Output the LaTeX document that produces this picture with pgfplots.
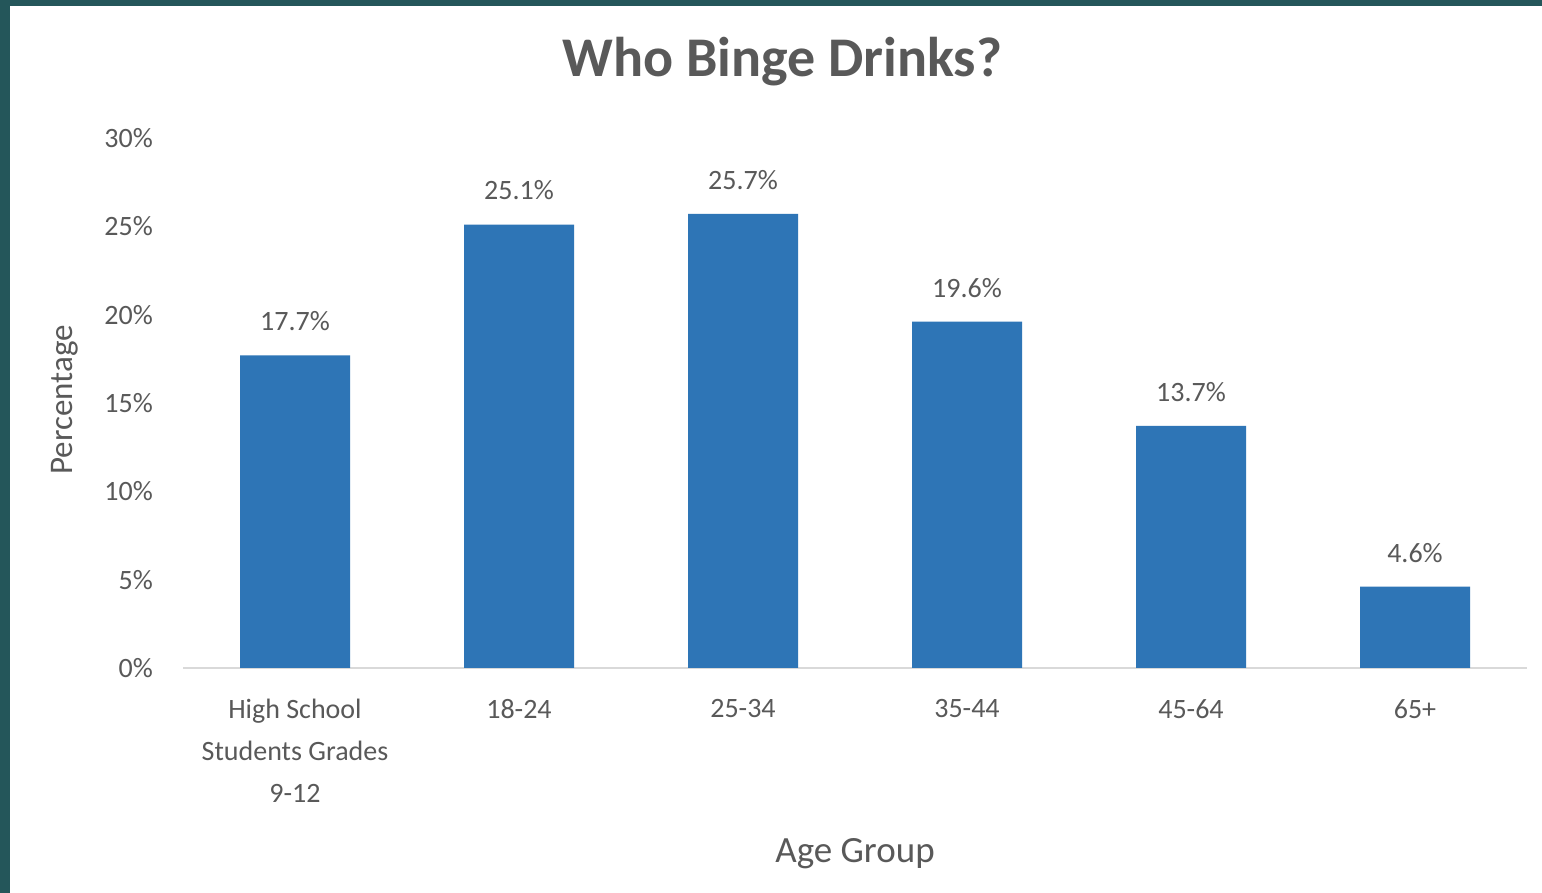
\documentclass[border=0pt]{standalone}
\usepackage{pgfplots}
\pgfplotsset{compat=1.18}
\usepackage{fontspec}
\setmainfont{Carlito}
\definecolor{frame}{HTML}{24565A}
\definecolor{barblue}{HTML}{2E75B6}
\definecolor{txt}{HTML}{595959}
\definecolor{axgray}{HTML}{D9D9D9}
\pgfplotstableread{
x y
0 17.7
1 25.1
2 25.7
3 19.6
4 13.7
5 4.6
}\data
\begin{document}
\begin{tikzpicture}[x=1pt,y=1pt]
\fill[frame] (0,0) rectangle (1542,893);
\fill[white] (10,0) rectangle (1542,887);
\useasboundingbox (0,0) rectangle (1542,893);
\begin{axis}[
  at={(183pt,225pt)}, anchor=south west,
  scale only axis, width=1344pt, height=530pt,
  xmin=-0.5, xmax=5.5, ymin=0, ymax=30,
  ybar, bar width=110pt,
  axis x line*=bottom, axis y line*=left,
  x axis line style={draw=axgray, line width=1.5pt},
  y axis line style={draw=none},
  major tick length=0pt,
  xtick={0,1,2,3,4,5},
  xticklabels={{High School\\Students Grades\\9-12},18-24,25-34,35-44,45-64,65+},
  ytick={0,5,10,15,20,25,30},
  yticklabels={0\%,5\%,10\%,15\%,20\%,25\%,30\%},
  /pgf/number format/assume math mode=true,
  xticklabel style={align=center, anchor=north, inner sep=0pt, yshift=-31pt, text=txt, font=\fontsize{28}{42}\selectfont},
  yticklabel style={anchor=east, inner sep=0pt, xshift=-30pt, text=txt, font=\fontsize{28}{34}\selectfont},
  nodes near coords={\pgfmathprintnumber[fixed,precision=1,fixed zerofill]{\pgfplotspointmeta}\%},
  nodes near coords style={anchor=center, yshift=34pt, text=txt, font=\fontsize{28}{34}\selectfont},
  point meta=y,
  title={Who Binge Drinks?},
  title style={at={(axis description cs:0.446,1.132)}, anchor=center, text=txt, font=\fontsize{56}{66}\selectfont\bfseries},
  xlabel={Age Group},
  xlabel style={at={(axis description cs:0.5,-0.35)}, anchor=center, text=txt, font=\fontsize{37}{44}\selectfont},
  ylabel={Percentage},
  ylabel style={at={(axis description cs:-0.088,0.506)}, anchor=center, rotate=0, text=txt, font=\fontsize{33}{40}\selectfont},
]
\addplot[fill=barblue, draw=none] table[x=x,y=y] {\data};
\end{axis}
\end{tikzpicture}
\end{document}
